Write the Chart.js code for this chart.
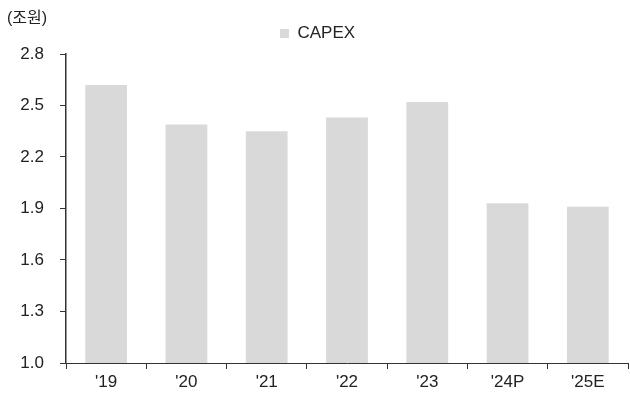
<!DOCTYPE html>
<html>
<head>
<meta charset="utf-8">
<script src="https://cdn.jsdelivr.net/npm/chart.js@4/dist/chart.umd.min.js"></script>
<style>
  html, body { margin: 0; padding: 0; background: #fff; }
  #wrap { width: 630px; height: 396px; }
</style>
</head>
<body>
<div id="wrap"><canvas id="capex"></canvas></div>
<script>
// values (unit: 조원)
const years = ["'19", "'20", "'21", "'22", "'23", "'24P", "'25E"];
const capex = [2.62, 2.39, 2.35, 2.43, 2.52, 1.93, 1.91];
const yTicks = [1.0, 1.3, 1.6, 1.9, 2.2, 2.5, 2.8];

const font = "'Liberation Sans', Arial, 'Noto Sans CJK KR', sans-serif";
const axisColor = '#333333';

// a little extra room under the legend
const legendGap = {
  id: 'legendGap',
  beforeInit(chart) {
    const fit = chart.legend.fit;
    chart.legend.fit = function () { fit.bind(chart.legend)(); this.height += 2; };
  }
};

const ctx = document.getElementById('capex').getContext('2d');
new Chart(ctx, {
  type: 'bar',
  data: { labels: years, datasets: [{ label: 'CAPEX', data: capex, backgroundColor: '#d9d9d9', categoryPercentage: 1, barPercentage: 0.52 }] },
  options: {
    responsive: true, maintainAspectRatio: false, animation: false,
    layout: { padding: { left: 7, right: 2, top: 0, bottom: 0 } },
    plugins: {
      tooltip: { enabled: false },
      title: { display: true, text: '(조원)', align: 'start', color: '#222', font: { family: font, size: 16, weight: 'normal', lineHeight: 1 }, padding: { top: 11, bottom: -6 } },
      legend: { labels: { boxWidth: 9, boxHeight: 9, color: '#222', padding: 4, font: { family: font, size: 17 } } }
    },
    scales: {
      x: {
        grid: { drawOnChartArea: false, offset: true, tickLength: 6, color: axisColor },
        border: { color: axisColor, width: 1 },
        ticks: { color: '#222', padding: 5, font: { family: font, size: 17, lineHeight: 1 } }
      },
      y: {
        min: 1.0, max: 2.8,
        afterFit(scale) { scale.width = 59; },
        afterBuildTicks(scale) { scale.ticks = yTicks.map(v => ({ value: v })); },
        grid: { drawOnChartArea: false, tickLength: 6, color: axisColor },
        border: { color: axisColor, width: 1.5 },
        ticks: { color: '#222', padding: 16, font: { family: font, size: 17 }, callback: v => v.toFixed(1) }
      }
    }
  },
  plugins: [legendGap]
});
</script>
</body>
</html>
